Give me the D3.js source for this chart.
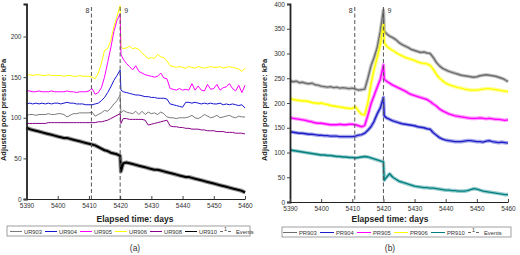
<!DOCTYPE html>
<html><head><meta charset="utf-8">
<script src="https://cdn.jsdelivr.net/npm/d3@7"></script>
<style>body{margin:0;background:#fff;} svg{display:block;font-family:"Liberation Sans",Arial,sans-serif;}</style>
</head><body><svg id="c" width="520" height="255"></svg>
<script>
const days = [5390,5391,5392,5393,5394,5395,5396,5397,5398,5399,5400,5401,5402,5403,5404,5405,5406,5407,5408,5409,5410,5411,5412,5413,5414,5415,5416,5417,5418,5419,5420,5420.25,5421,5422,5423,5424,5425,5426,5427,5428,5429,5430,5431,5432,5433,5434,5435,5436,5437,5438,5439,5440,5441,5442,5443,5444,5445,5446,5447,5448,5449,5450,5451,5452,5453,5454,5455,5456,5457,5458,5459,5460];
const xTicks = [5390,5400,5410,5420,5430,5440,5450,5460];
const yTicksA = [0,50,100,150,200];
const yTicksB = [0,50,100,150,200,250,300,350,400];
const events = [{day:5410.8,label:"8"},{day:5420,label:"9"}];

// Panel (a)
const UR906 = [152,153,152,153,153,152,152,153,152,152, 152,152,151,152,152,151,151,152,151,151, 151,150,148,155,167,183,185,195,212,225, 238,187, 185,186,188,185,186,184,180,176,173,174, 173,178,175,174,170,164,163,162,163,162, 161,163,162,161,163,162,161,162,163,162, 162,163,161,162,163,162,161,160,157,161];
const UR905 = [133,133,132,132,133,132,132,132,133,132, 132,132,132,133,132,132,131,132,132,132, 133,136,129,131,137,150,168,186,206,220, 228,178, 172,167,163,159,164,157,155,153,152,151, 150,151,155,149,148,136,135,134,136,134, 135,134,142,134,139,134,133,141,135,136, 141,134,137,138,142,136,133,140,131,140];
const UR904 = [117,118,117,118,117,118,117,118,117,118, 118,117,118,119,118,118,117,117,117,116, 116,116,117,118,121,125,131,138,146,152, 159,134, 132,131,130,129,128,128,127,126,126,125, 125,124,124,124,123,117,116,115,114,113, 119,119,118,119,118,117,118,117,118,117, 117,118,116,117,116,117,116,115,116,112];
const UR903 = [103,104,104,103,104,104,104,105,104,104, 105,105,104,101,103,105,105,106,106,106, 106,107,102,104,106,109,108,112,117,121, 128,106, 109,107,106,105,108,104,108,104,107,105, 106,104,107,105,101,100,100,99,100,100, 100,101,103,100,99,101,104,102,100,101, 103,100,101,102,103,101,100,102,101,101];
const UR908 = [93,93,93,93,93,93,93,94,94,94, 94,94,94,94,94,94,94,94,94,94, 94,94,94,95,95,96,97,99,101,103, 105,93, 99,99,98,98,98,98,98,97,91,92, 93,94,95,96,97,90,89,89,88,88, 87,87,86,86,86,85,85,84,84,84, 83,83,83,82,82,82,81,81,81,80];
const UR910 = [88,86,85,84,83,82,81,80,79,78, 77,76,75,75,74,73,72,71,70,69, 68,67,66,64,62,60,59,57,56,55, 53,34, 44,45,44,43,42,41,40,39,38,37, 36,36,35,34,33,32,31,30,29,28, 27,27,26,25,24,23,22,21,20,19, 18,17,16,15,14,13,12,11,10,8];

// Panel (b)
const PR903 = [245,243,244,241,242,240,239,240,237,236, 234,233,232,233,231,232,230,231,230,229, 230,228,226,227,228,250,275,292,312,345, 388,345, 340,335,332,328,322,318,315,312,308,306, 304,302,303,301,300,292,282,275,270,267, 264,262,260,258,256,255,254,253,252,253, 255,256,257,256,255,254,252,250,247,243];
const PR906 = [209,207,206,205,204,204,203,201,200,199, 200,198,197,195,194,193,192,191,190,189, 189,192,184,177,176,200,238,268,292,318, 358,322, 315,310,306,302,298,295,292,290,288,286, 283,281,280,279,276,268,258,250,245,240, 237,235,233,231,230,228,227,226,226,226, 227,228,229,229,228,227,226,225,224,223];
const PR905 = [171,169,168,167,166,165,163,162,160,159, 159,158,157,156,156,156,157,156,156,157, 157,156,154,152,155,175,198,215,232,248, 277,248, 244,240,236,233,230,227,224,220,217,215, 213,211,209,207,203,198,194,188,184,181, 178,176,174,173,172,171,170,169,169,169, 170,169,168,169,168,167,167,166,165,166];
const PR904 = [142,141,140,139,139,138,137,137,136,135, 135,134,134,133,133,133,132,132,132,132, 132,133,135,136,139,145,152,163,178,190, 211,174, 170,167,164,162,160,158,157,156,155,154, 152,151,150,148,147,140,135,130,127,125, 124,123,122,122,122,123,124,124,123,122, 122,121,123,124,122,121,120,121,120,119];
const PR910 = [105,104,103,102,101,100,99,98,97,96, 95,95,94,94,93,92,92,91,91,90, 90,89,90,91,92,91,89,87,85,83, 81,44, 50,57,50,46,42,40,38,36,34,32, 31,30,29,29,28,28,27,26,25,24, 24,23,23,22,22,22,23,25,27,26, 24,22,21,20,19,18,17,16,15,15];

const seriesA = [
  {name:"UR906", values:UR906, color:"#ffff00", w:1},
  {name:"UR905", values:UR905, color:"#ff00ff", w:1},
  {name:"UR904", values:UR904, color:"#1515d0", w:1},
  {name:"UR903", values:UR903, color:"#7a7a7a", w:1},
  {name:"UR908", values:UR908, color:"#8a008a", w:1},
  {name:"UR910", values:UR910, color:"#000000", w:2, halo:true}
];
const legendA = ["UR903","UR904","UR905","UR906","UR908","UR910"];
const seriesB = [
  {name:"PR903", values:PR903, color:"#6e6e6e", w:1.4, halo:true},
  {name:"PR906", values:PR906, color:"#ffff00", w:1.4, halo:true},
  {name:"PR905", values:PR905, color:"#ff00ff", w:1.4, halo:true},
  {name:"PR904", values:PR904, color:"#1f1fc8", w:1.4, halo:true},
  {name:"PR910", values:PR910, color:"#008080", w:1.4, halo:true}
];
const legendB = ["PR903","PR904","PR905","PR906","PR910"];

const svg = d3.select("#c");

function panel(cfg){
  const x = d3.scaleLinear().domain([5390,5460]).range([cfg.x0,cfg.x1]);
  const y = d3.scaleLinear().domain([0,cfg.ymax]).range([cfg.y0,cfg.y1]);
  const g = svg.append("g");
  const line = d3.line().x((d,i)=>x(days[i])).y(d=>y(d));
  cfg.series.forEach(s=>{
    if(s.halo){
      g.append("path").attr("d",line(s.values)).attr("fill","none")
        .attr("stroke",s.color).attr("stroke-opacity",0.4).attr("stroke-width",s.w+2.2).attr("stroke-linejoin","round");
    }
    g.append("path").attr("d",line(s.values)).attr("fill","none")
      .attr("stroke",s.color).attr("stroke-width",s.w).attr("stroke-linejoin","round");
  });
  events.forEach(e=>{
    g.append("line").attr("x1",x(e.day)).attr("x2",x(e.day)).attr("y1",cfg.y1+3).attr("y2",cfg.y0)
      .attr("stroke","#555").attr("stroke-width",1).attr("stroke-dasharray","4,2.5");
    g.append("text").attr("x", e.label==="8" ? x(e.day)-2 : x(e.day)+4).attr("y",cfg.y1+9)
      .attr("text-anchor", e.label==="8" ? "end":"start").attr("font-size",7).attr("fill","#333").text(e.label);
  });
  const ya = d3.axisLeft(y).tickValues(cfg.yTicks).tickSize(3).tickPadding(2);
  const yg = g.append("g").attr("transform",`translate(${cfg.x0},0)`).call(ya);
  yg.select(".domain").attr("stroke","#222").attr("stroke-width",1.8);
  yg.selectAll(".tick line").attr("stroke","#444");
  yg.selectAll("text").attr("font-size",6.5).attr("fill","#333").attr("font-family","Liberation Sans, Arial");
  const xa = d3.axisBottom(x).tickValues(xTicks).tickFormat(d3.format("d")).tickSizeInner(-3).tickSizeOuter(0).tickPadding(4);
  const xg = g.append("g").attr("transform",`translate(0,${cfg.y0})`).call(xa);
  xg.select(".domain").attr("stroke","#222").attr("stroke-width",1.2);
  xg.selectAll(".tick line").attr("stroke","#444");
  xg.selectAll("text").attr("font-size",6.5).attr("fill","#333").attr("font-family","Liberation Sans, Arial");
  g.append("text").attr("transform",`translate(${cfg.ytx},${cfg.yty}) rotate(-90)`).attr("text-anchor","middle")
    .attr("font-size",7.5).attr("font-weight","bold").attr("fill","#222").text("Adjusted pore pressure: kPa");
  g.append("text").attr("x",cfg.xtx).attr("y",222).attr("text-anchor","middle")
    .attr("font-size",8.5).attr("font-weight","bold").attr("fill","#222").text("Elapsed time: days");
  const L = cfg.legend;
  g.append("rect").attr("x",L.x).attr("y",L.y).attr("width",L.w).attr("height",10)
    .attr("fill","#fff").attr("stroke","#888").attr("stroke-width",0.8);
  const cy = L.y+5.5;
  cfg.legendNames.forEach((n,i)=>{
    const s = cfg.series.find(t=>t.name===n);
    const lx = L.x + L.first + i*L.step;
    g.append("line").attr("x1",lx).attr("x2",lx+L.len).attr("y1",cy).attr("y2",cy)
      .attr("stroke",s.color).attr("stroke-width",1);
    g.append("text").attr("x",lx+L.len+2).attr("y",cy+2).attr("font-size",5.8).attr("fill","#333").text(n);
  });
  const ex = L.x + L.first + cfg.legendNames.length*L.step;
  g.append("line").attr("x1",ex).attr("x2",ex+11).attr("y1",cy).attr("y2",cy)
    .attr("stroke","#444").attr("stroke-width",0.8).attr("stroke-dasharray","3,5");
  g.append("text").attr("x",ex+5.5).attr("y",cy-0.8).attr("text-anchor","middle").attr("font-size",5.5).attr("fill","#333").text("1");
  g.append("text").attr("x",ex+16).attr("y",cy+2).attr("font-size",5.8).attr("fill","#333").text("Events");
  g.append("text").attr("x",cfg.xtx).attr("y",251).attr("text-anchor","middle").attr("font-size",8.5).attr("fill","#333").text(cfg.tag);
}

panel({x0:26.5,x1:245,y0:199,y1:4,ymax:240,yTicks:yTicksA,series:seriesA,legendNames:legendA,
  ytx:6,yty:110,xtx:135,tag:"(a)",legend:{x:7,y:226,w:243,first:3,step:35,len:12}});
panel({x0:290,x1:508,y0:202,y1:4,ymax:400,yTicks:yTicksB,series:seriesB,legendNames:legendB,
  ytx:267,yty:110,xtx:390,tag:"(b)",legend:{x:282,y:227,w:229,first:1,step:37,len:14}});
</script></body></html>
